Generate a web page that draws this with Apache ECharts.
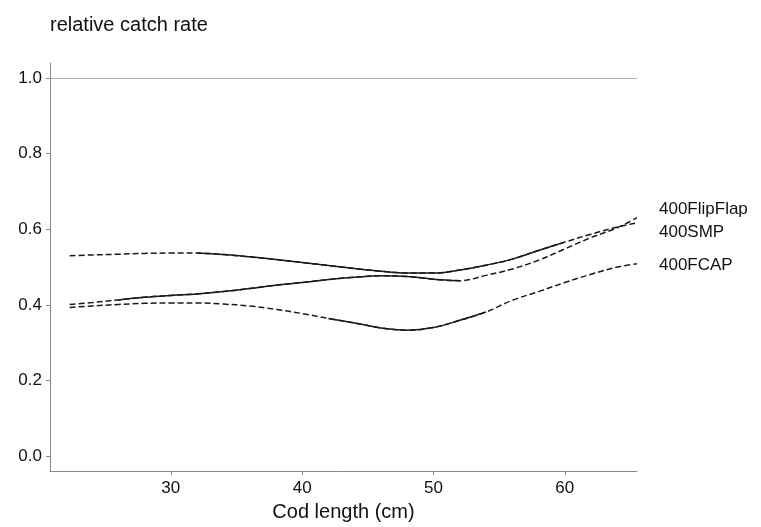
<!DOCTYPE html>
<html>
<head>
<meta charset="utf-8">
<script src="https://cdn.jsdelivr.net/npm/echarts@6/dist/echarts.min.js"></script>
<style>
  html, body { margin: 0; padding: 0; background: #fff; }
  #chart { width: 761px; height: 527px; }
</style>
</head>
<body>
<div id="chart"></div>
<script>
// cod length (cm)
const lengths = [22.3, 24, 26, 28, 30, 32, 34, 36, 38, 40, 42, 44, 46, 48, 50, 52, 54, 56, 58, 60, 62, 64, 65.5];

// relative catch rate per gear
const flipFlapRate = [0.401, 0.406, 0.413, 0.420, 0.425, 0.429, 0.435, 0.443, 0.452, 0.459, 0.467, 0.473, 0.477, 0.475, 0.468, 0.464, 0.478, 0.495, 0.518, 0.548, 0.578, 0.604, 0.631];
const smpRate = [0.530, 0.532, 0.534, 0.536, 0.537, 0.537, 0.533, 0.527, 0.520, 0.512, 0.504, 0.496, 0.489, 0.484, 0.484, 0.492, 0.505, 0.521, 0.544, 0.566, 0.587, 0.606, 0.617];
const fcapRate = [0.393, 0.397, 0.401, 0.404, 0.405, 0.405, 0.402, 0.397, 0.388, 0.377, 0.364, 0.352, 0.339, 0.333, 0.340, 0.359, 0.381, 0.412, 0.435, 0.459, 0.481, 0.500, 0.509];

// length range where each curve is drawn solid
const flipFlapSolid = [26, 52];
const smpSolid = [32, 60];
const fcapSolid = [42, 54];

const gearNames = ['400FlipFlap', '400SMP', '400FCAP'];
const xTicks = [30, 40, 50, 60];
const yTicks = [0, 0.2, 0.4, 0.6, 0.8, 1.0];

const font = '"Liberation Sans", Arial, sans-serif';
const ink = '#1a1a1a';

function pairs(vals) {
  return lengths.map((x, i) => [x, vals[i]]);
}
function solidPart(vals, range) {
  return pairs(vals).filter(p => p[0] >= range[0] && p[0] <= range[1]);
}

const curves = [
  { name: gearNames[0], vals: flipFlapRate, solid: flipFlapSolid, dy: -8 },
  { name: gearNames[1], vals: smpRate, solid: smpSolid, dy: 9 },
  { name: gearNames[2], vals: fcapRate, solid: fcapSolid, dy: 2 }
];

const series = [];
curves.forEach(c => {
  series.push({
    name: c.name,
    type: 'line',
    data: pairs(c.vals),
    smooth: 0.4,
    showSymbol: false,
    silent: true,
    lineStyle: { color: ink, width: 1.5, type: [6, 3] },
    endLabel: {
      show: true,
      formatter: c.name,
      distance: 22,
      offset: [0, c.dy],
      color: '#111',
      fontFamily: font,
      fontSize: 17
    }
  });
  series.push({
    name: c.name + ' solid',
    type: 'line',
    data: solidPart(c.vals, c.solid),
    smooth: 0.4,
    showSymbol: false,
    silent: true,
    lineStyle: { color: ink, width: 1.5, type: 'solid' }
  });
});

// reference line at 1.0
series[0].markLine = {
  silent: true,
  symbol: 'none',
  label: { show: false },
  lineStyle: { color: '#b0b0b0', width: 1, type: 'solid' },
  data: [{ yAxis: 1 }]
};

const chart = echarts.init(document.getElementById('chart'));
chart.setOption({
  animation: false,
  title: {
    text: 'relative catch rate',
    left: 50,
    top: 15,
    padding: 0,
    textStyle: { fontFamily: font, fontSize: 20, fontWeight: 'normal', color: '#111' }
  },
  grid: { left: 50, right: 124, top: 63, bottom: 54 },
  xAxis: {
    type: 'value',
    min: 20.8,
    max: 65.5,
    name: 'Cod length (cm)',
    nameLocation: 'middle',
    nameGap: 21,
    nameTextStyle: { fontFamily: font, fontSize: 20, color: '#111' },
    axisLine: { show: true, onZero: false, lineStyle: { color: '#888', width: 1 } },
    axisTick: { show: true, length: 4, customValues: xTicks, lineStyle: { color: '#888' } },
    axisLabel: { customValues: xTicks, margin: 9, fontFamily: font, fontSize: 17, color: '#111' },
    splitLine: { show: false }
  },
  yAxis: {
    type: 'value',
    min: -0.04,
    max: 1.04,
    axisLine: { show: true, onZero: false, lineStyle: { color: '#888', width: 1 } },
    axisTick: { show: true, length: 4, customValues: yTicks, lineStyle: { color: '#888' } },
    axisLabel: {
      customValues: yTicks,
      margin: 8,
      fontFamily: font,
      fontSize: 17,
      color: '#111',
      formatter: v => v.toFixed(1)
    },
    splitLine: { show: false }
  },
  series: series
});
</script>
</body>
</html>
